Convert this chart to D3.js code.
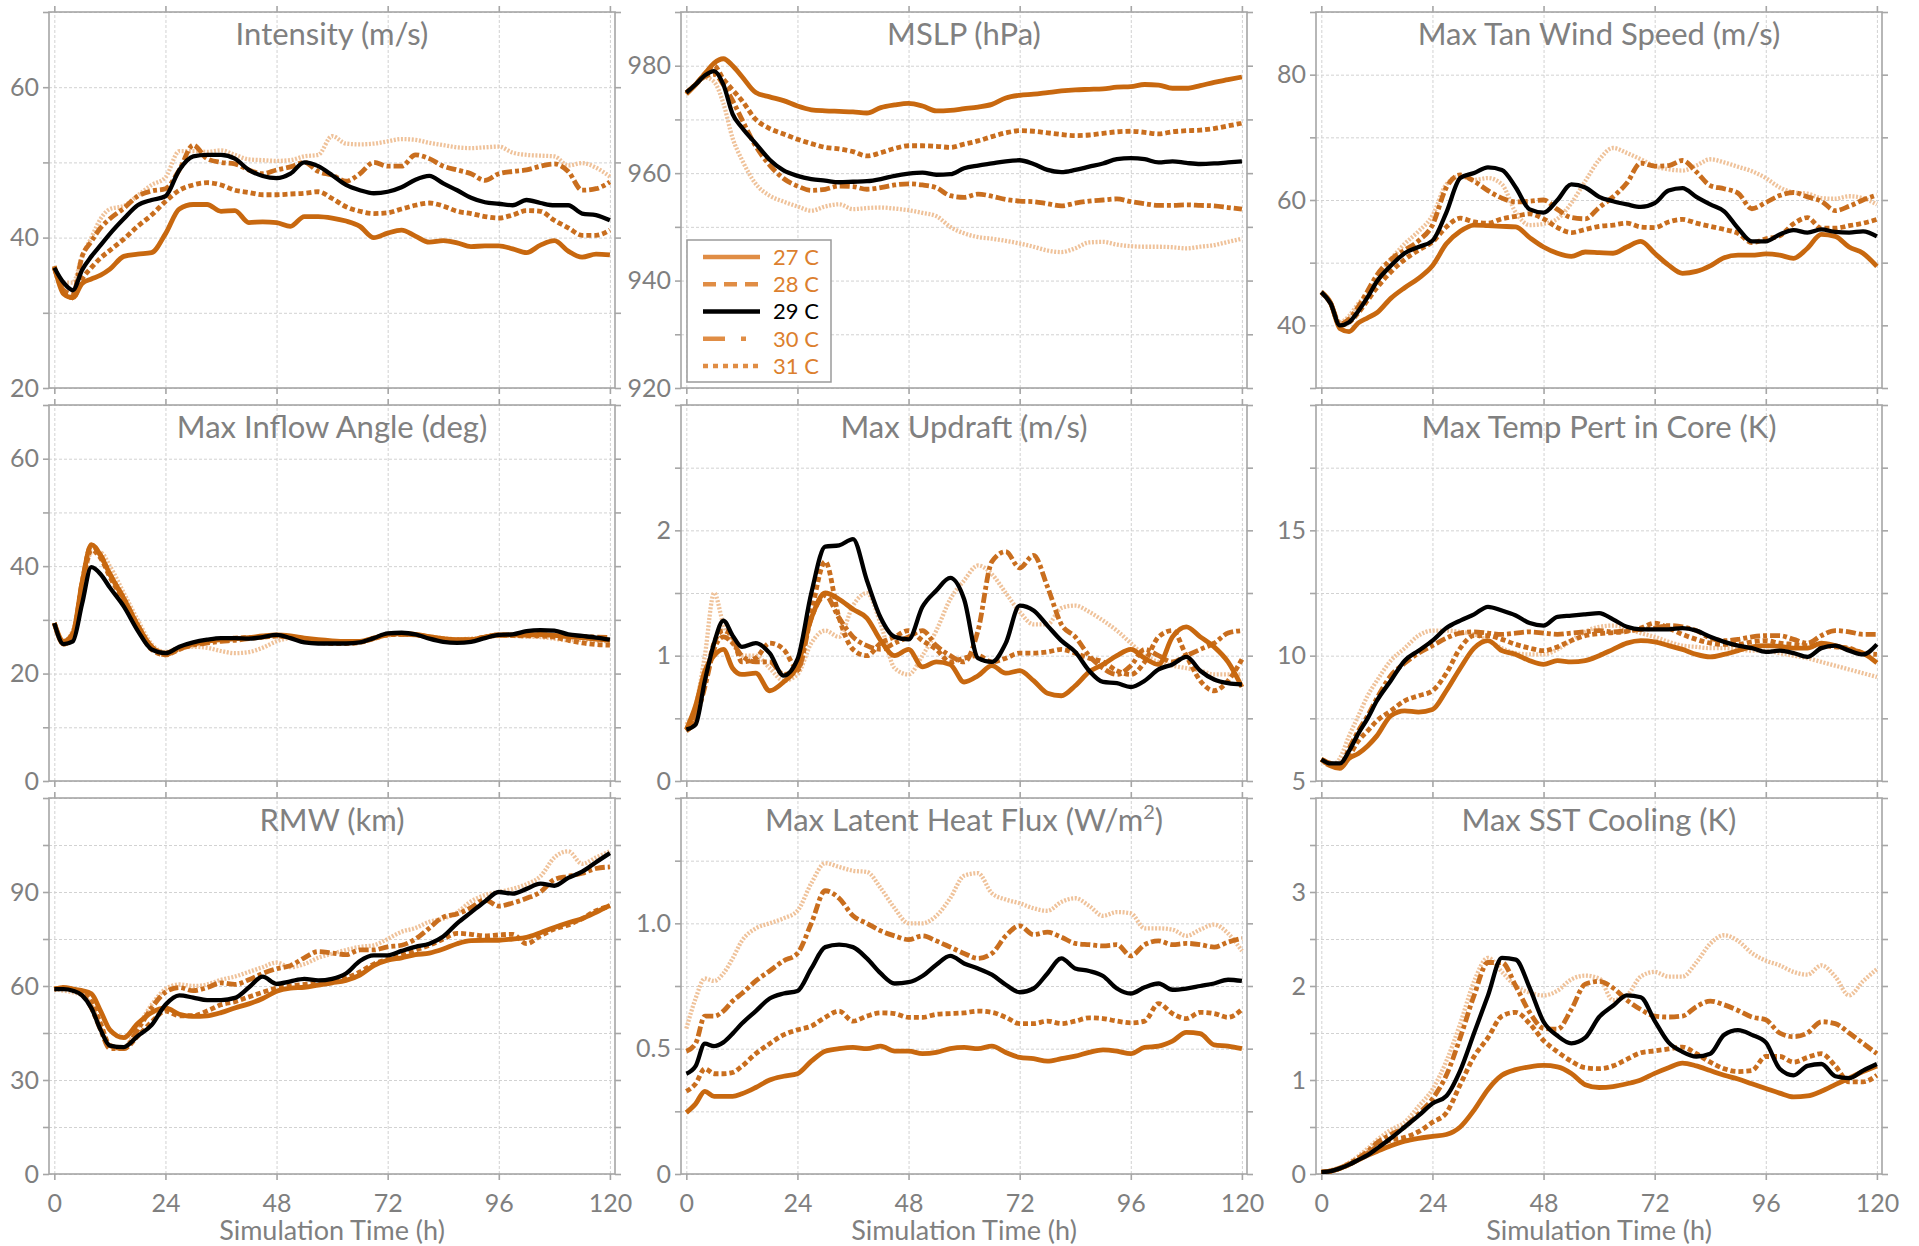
<!DOCTYPE html>
<html><head><meta charset="utf-8">
<script src="https://cdn.jsdelivr.net/npm/d3@7"></script>
<style>
body{margin:0;background:#fff;}
svg{display:block;font-family:Lato,'Open Sans',sans-serif;}
</style>
</head><body>
<svg id="chart" width="1919" height="1246"></svg>
<script>
// ---------------- DATA ----------------
const hours = [0,2,4,6,8,10,12,15,18,21,24,27,30,33,36,39,42,45,48,51,54,57,60,63,66,69,72,75,78,81,84,87,90,93,96,99,102,105,108,111,114,117,120];
const xTickValues = [0,24,48,72,96,120];
const seriesNames = ["27 C","28 C","29 C","30 C","31 C"];

// Intensity (m/s)
const intensity27 = [36.2,32.5,32,33.9,34.5,35,35.8,37.5,37.8,38,40.5,43.8,44.4,44.4,43.5,43.6,42,42.1,42,41.5,42.8,42.8,42.6,42.2,41.5,40,40.6,41,40.2,39.4,39.6,39.3,38.8,38.9,38.9,38.5,38,39,39.6,38.2,37.4,37.8,37.7];
const intensity28 = [36,33,32,34.5,36,37.3,38.3,39.8,41.5,43,44.8,46.3,47,47.3,47,46.3,46,45.7,45.7,45.8,45.9,46.1,45.2,44.1,43.5,43.2,43.3,43.8,44.3,44.6,44.2,43.5,43.2,42.8,42.6,43,43.6,43.5,42.3,41.3,40.3,40.3,41];
const intensity29 = [36,34,33,35.7,37.5,39,40.5,42.5,44.3,45,45.5,49,50.8,51,51,50.5,49,48.2,47.9,48.5,50,49.5,48.3,47,46.3,45.9,46.1,46.7,47.7,48.2,47.2,46.3,45.3,44.7,44.5,44.3,45,44.6,44.3,44.3,43.2,43,42.3];
const intensity30 = [36,33,32.5,37.5,39.5,41.3,42.5,43.9,45.5,46.2,46.5,49,52.3,50.5,50,49.8,49,48.5,49,49.4,50,48.8,48.3,47.5,48.5,50,49.5,49.5,51,50.5,49.5,49,48.5,47.6,48.5,48.8,49,49.5,49.8,48.8,46.3,46.5,47.4];
const intensity31 = [36,34,34,37.5,40,42.5,43.8,44.2,45.6,47,48,51.5,51.5,51.4,51.6,51,50.4,50.3,50.2,50.3,50.8,51,53.5,52.5,52.4,52.5,52.8,53.1,53,52.6,52.3,52,51.9,52,52.1,51.3,51,50.9,50.8,49.6,49.9,49.3,48.1];

// MSLP (hPa)
const mslp27 = [974.7,976.5,978.5,980.5,981.3,980,978,975,974.2,973.5,972.5,971.8,971.6,971.5,971.4,971.2,972.2,972.7,973,972.5,971.6,971.7,972,972.3,972.8,974,974.5,974.7,975,975.3,975.5,975.6,975.7,976,976.1,976.5,976.4,975.8,975.8,976.3,976.9,977.4,977.9];
const mslp28 = [975,976.5,978.5,980,977.5,975.5,973.5,970,968.3,967.3,966.3,965.5,964.8,964.5,964,963.2,963.8,964.6,965.1,965.1,965,964.8,965.4,966,966.8,967.5,967.9,967.8,967.5,967.2,967,967.1,967.4,967.7,967.8,967.6,967.3,967.7,967.9,968,968.3,968.8,969.3];
const mslp29 = [975,976.5,978.2,979,976.5,971,968.5,965.5,962.5,960.5,959.5,958.9,958.6,958.3,958.4,958.5,958.9,959.5,959.9,960.1,959.7,959.8,960.9,961.4,961.8,962.2,962.4,961.7,960.6,960.2,960.6,961.2,961.8,962.6,962.8,962.6,962,962.2,961.9,961.7,961.8,962,962.2];
const mslp30 = [975,976.5,978,978.4,976.5,973.5,970,965,961.5,959,957.6,956.8,957,957.6,957.5,957,957.3,957.8,958,957.8,957.3,955.8,955.5,956.1,955.7,955.1,954.8,954.7,954.3,953.9,954.4,954.8,955,955.2,954.7,954.3,954,954,954.1,954,953.9,953.6,953.3];
const mslp31 = [975,976.5,977.8,977,973,966.5,962.5,958,955.8,954.7,953.8,953,953.8,954.2,953.3,953.5,953.6,953.4,953.1,952.6,952,950,948.8,948.1,947.8,947.4,946.9,946.3,945.6,945.3,946,947.1,947.2,946.7,946.4,946.3,946.3,946.2,946,946.3,946.6,947.2,947.8];

// Max Tan Wind Speed (m/s)
const tanWind27 = [45.3,43.6,39.5,39,40.4,41.2,42,44.3,46,47.5,49.5,53,55,56,55.9,55.8,55.7,54,52.5,51.5,51,51.7,51.6,51.5,52.5,53.4,51.5,49.6,48.3,48.6,49.5,50.8,51.2,51.2,51.4,51.2,50.7,52.3,54.5,54.2,52.5,51.5,49.4];
const tanWind28 = [45.3,43.5,40,40.5,42,44,46,48.5,50.5,52,53.3,55.7,57.1,56.5,56.3,57,57.4,57.8,57,55.6,54.8,55.3,55.8,56,56.3,55.7,55.6,56.5,56.9,56.3,55.8,55.3,54.7,53.2,53.8,54.3,56.2,57.2,55.5,55.5,55.9,56.3,56.9];
const tanWind29 = [45.3,43.5,40,40.5,42.3,44.5,47,49.5,51.5,52.5,53.5,58,63.5,64.3,65.2,64.8,62,58.5,58,60,62.5,62,60.5,59.8,59.3,58.9,59.5,61.5,61.9,60.5,59.3,58.2,55.5,53.4,53.4,54.5,55.2,54.8,55.3,54.9,54.8,55,54.2];
const tanWind30 = [45.3,43.5,40.2,41,43,45.5,48,50.5,52,53.5,56,62,64,63,61.5,60.3,59.7,59.8,60,58.5,57.2,57,58.8,60.5,62.7,65.9,65.4,65.5,66.3,64.5,62.3,61.8,61.1,58.6,59.6,60.7,61.2,60.5,59.8,58.3,59,60,60.8];
const tanWind31 = [45.3,43.5,40.5,41.5,43.5,45,47.3,50.5,53,55,57.5,62.5,63.8,63.2,63.5,62.5,58,56,56.2,57,59.5,63,66.4,68.3,67.5,66.5,65.4,64.9,64.7,65.5,66.5,66,65.3,64.6,63.5,62,61.2,61,60.3,60.2,60.6,60.3,59.3];

// Max Inflow Angle (deg)
const inflow27 = [29.4,26,27.5,37,44,42,38.5,34,29,25,23.8,24.8,25.5,26,26.3,26.5,26.7,27,27.2,27,26.6,26.3,26.1,26,26,26.6,27.3,27.5,27.3,26.9,26.5,26.3,26.3,26.8,27.2,27.2,27.2,27.3,27.1,26.9,26.7,26.4,26.2];
const inflow28 = [29.4,25.5,26.5,36,43,41.5,38,33.5,28.5,24.5,23.5,24.5,25.5,26,26.4,26.6,26.7,26.8,27,26.7,26.2,25.8,25.6,25.6,25.8,26.5,27.2,27.3,27.2,26.8,26.3,26.2,26.3,26.8,27.2,27.1,27,27,26.8,26.2,25.7,25.4,25.3];
const inflow29 = [29.4,25.5,26,33,39.8,38.5,36,32.5,28,24.5,23.8,25,25.8,26.3,26.6,26.6,26.5,26.8,27.2,26.6,25.8,25.6,25.6,25.6,25.8,26.6,27.5,27.6,27.3,26.5,25.9,25.7,25.9,26.6,27.2,27.3,27.9,28.1,28,27.3,27,26.7,26.3];
const inflow30 = [29.4,25.5,27,37,43.8,42,38.5,34,29,25,23.5,24.6,25.3,25.7,26,26.2,26.5,26.8,27,26.8,26.3,26,25.9,25.8,25.9,26.6,27.2,27.3,27.2,26.8,26.4,26.2,26.3,26.8,27.1,27.1,27.2,27.3,27.1,27,26.9,26.8,26.7];
const inflow31 = [29.4,26,28,36,42.5,42.5,40,35,30,25.5,24,24.8,25,24.8,24.2,23.8,24,24.8,26,26.6,26.5,26.2,26,25.8,25.9,26.5,27.1,27.3,27.2,26.9,26.6,26.4,26.5,26.8,27,27,26.9,26.8,26.5,26.2,26.3,26.1,26];

// Max Updraft (m/s)
const updraft27 = [0.41,0.6,0.88,1.0,1.05,0.9,0.85,0.86,0.72,0.79,0.92,1.3,1.5,1.45,1.37,1.3,1.12,1.0,1.05,0.91,0.95,0.93,0.79,0.84,0.92,0.86,0.88,0.8,0.7,0.68,0.76,0.87,0.93,1.0,1.05,0.98,0.93,1.15,1.23,1.15,1.07,0.95,0.75];
const updraft28 = [0.4,0.5,0.8,1.1,1.2,1.15,0.95,0.98,1.1,1.05,0.9,1.35,1.75,1.3,1.05,1.0,1.1,1.15,1.2,1.12,1.05,0.95,0.98,1.0,0.95,0.98,1.02,1.02,1.03,1.05,1.02,0.98,0.95,0.88,0.85,0.95,1.15,1.2,1.0,0.8,0.72,0.8,0.97];
const updraft29 = [0.41,0.45,0.8,1.1,1.28,1.16,1.07,1.1,1.02,0.84,0.97,1.5,1.87,1.88,1.93,1.6,1.3,1.15,1.13,1.39,1.52,1.62,1.45,0.98,0.95,1.1,1.4,1.36,1.24,1.12,1.03,0.88,0.79,0.78,0.75,0.8,0.89,0.93,0.99,0.88,0.81,0.78,0.77];
const updraft30 = [0.4,0.5,0.75,1.05,1.15,1.1,1.0,0.95,0.95,0.85,0.88,1.3,1.48,1.3,1.15,1.08,1.05,1.1,1.15,1.2,1.08,1.0,0.95,1.2,1.75,1.83,1.7,1.8,1.55,1.25,1.15,1.0,0.9,0.85,0.92,1.05,1.0,0.95,1.0,1.05,1.1,1.18,1.2];
const updraft31 = [0.45,0.6,1.0,1.5,1.25,1.1,1.0,1.0,0.9,0.8,0.85,1.1,1.2,1.15,1.4,1.5,1.25,0.9,0.85,1.0,1.2,1.45,1.6,1.72,1.65,1.5,1.35,1.25,1.25,1.38,1.4,1.35,1.28,1.2,1.1,1.0,0.95,0.92,0.9,0.88,0.85,0.85,0.85];

// Max Temp Pert in Core (K)
const tempPert27 = [5.86,5.6,5.5,5.9,6.1,6.4,6.8,7.6,7.8,7.75,7.85,8.6,9.5,10.3,10.6,10.2,10.05,9.8,9.65,9.8,9.75,9.8,10.0,10.25,10.5,10.6,10.55,10.4,10.25,10.05,9.95,10.05,10.2,10.35,10.4,10.37,10.3,10.3,10.5,10.4,10.25,10.1,9.71];
const tempPert28 = [5.86,5.7,5.6,6.0,6.6,7.0,7.4,7.8,8.2,8.4,8.6,9.3,10.3,10.8,10.8,10.65,10.45,10.3,10.2,10.35,10.6,10.8,10.88,10.92,10.97,11.1,11.3,11.1,10.85,10.65,10.5,10.45,10.45,10.55,10.6,10.5,10.45,10.4,10.4,10.35,10.3,10.1,10.05];
const tempPert29 = [5.86,5.7,5.7,6.2,6.9,7.5,8.2,9.0,9.8,10.2,10.6,11.1,11.4,11.65,11.95,11.8,11.6,11.3,11.2,11.55,11.6,11.65,11.7,11.45,11.15,11.05,11.05,11.05,11.1,11.0,10.75,10.55,10.4,10.3,10.15,10.2,10.1,9.95,10.3,10.4,10.2,10.05,10.45];
const tempPert30 = [5.86,5.7,5.6,6.3,7.0,7.6,8.3,9.2,9.7,10.1,10.4,10.7,10.9,10.95,10.9,10.85,10.9,10.95,10.9,10.85,10.9,10.95,11.0,10.95,11.0,11.05,11.1,11.2,11.15,11.0,10.7,10.6,10.65,10.75,10.8,10.8,10.65,10.5,10.8,11.0,10.95,10.85,10.85];
const tempPert31 = [5.86,5.6,5.9,6.8,7.6,8.4,9.0,9.8,10.3,10.8,11.0,11.0,10.95,10.85,10.6,10.3,10.1,10.05,10.05,10.25,10.6,10.95,11.15,11.2,11.1,10.9,10.75,10.55,10.4,10.35,10.3,10.3,10.25,10.2,10.2,10.1,10.0,9.9,9.75,9.6,9.45,9.3,9.15];

// RMW (km)
const rmw27 = [59,59.5,59,58.5,57.5,52,46,43.5,48,51.5,53,51,50.3,50.5,51.5,53,54.3,56,58.3,59.3,59.6,60.3,61,61.8,63.5,66.5,68.2,69,70,70.5,71.8,73.5,74.5,74.6,74.6,75,75.5,77,78.7,80.2,81.5,83.5,85.7];
const rmw28 = [59,59.5,59,58,55,48,41,40,44,48.5,52,50.5,50.5,52,54,55,56.5,58,59.3,60,60.5,61,61.5,62.5,64.5,67,68.5,70,71.5,73,75,76.8,76.5,76,76.3,76.5,73.5,76,78.2,79.5,81.5,84,85.5];
const rmw29 = [59,59,58.5,57,53,46,41,40.5,44,47.5,54,57,56.3,55.5,55.5,56.2,59.5,63,60.7,61.5,62.3,61.8,62.3,64,68,69.8,69.8,71.2,72.5,73.5,75.8,80,83.5,87,90,89.5,91,92.7,92,94.5,96.5,99.5,102.4];
const rmw30 = [59,59.5,59,57.5,53,46,40,40,46,53,58,59.5,58.5,59.5,61,60.5,62,64,65.5,66.5,69,71,70.5,70,71.5,71.5,72.5,73,75,78.5,82,83,85,87.5,85.5,86.5,88,90,94,95,96,97.5,98];
const rmw31 = [59,58.5,58,57,54,47,41,40.5,47,54,59,60.5,60,60.5,62,63,64.5,66,67.5,66,67,69,70.3,71.5,72.5,73,75,77.3,78.5,80.5,81.5,83.5,87,89,90,91,92.5,95,101,103,99,101,103];

// Max Latent Heat Flux (W/m2)
const lhf27 = [0.245,0.28,0.33,0.31,0.31,0.31,0.32,0.345,0.375,0.39,0.40,0.45,0.49,0.50,0.505,0.50,0.51,0.49,0.49,0.48,0.485,0.50,0.505,0.50,0.51,0.485,0.465,0.46,0.45,0.46,0.47,0.485,0.495,0.49,0.48,0.505,0.51,0.53,0.565,0.56,0.515,0.51,0.50];
const lhf28 = [0.33,0.36,0.42,0.40,0.40,0.405,0.43,0.48,0.52,0.555,0.575,0.59,0.625,0.65,0.61,0.63,0.643,0.64,0.625,0.625,0.637,0.64,0.643,0.65,0.645,0.625,0.60,0.60,0.61,0.60,0.61,0.623,0.62,0.61,0.603,0.61,0.68,0.64,0.62,0.645,0.64,0.625,0.656];
const lhf29 = [0.40,0.43,0.52,0.51,0.525,0.56,0.60,0.65,0.70,0.72,0.73,0.82,0.905,0.915,0.905,0.86,0.80,0.76,0.765,0.79,0.835,0.87,0.84,0.82,0.795,0.755,0.725,0.74,0.80,0.86,0.82,0.81,0.79,0.74,0.72,0.745,0.76,0.735,0.74,0.75,0.76,0.775,0.77];
const lhf30 = [0.49,0.52,0.63,0.63,0.65,0.69,0.72,0.77,0.81,0.85,0.88,1.0,1.13,1.1,1.03,1.0,0.97,0.95,0.935,0.95,0.93,0.905,0.88,0.86,0.88,0.95,0.99,0.955,0.965,0.945,0.92,0.915,0.91,0.915,0.87,0.915,0.93,0.915,0.92,0.915,0.905,0.925,0.94];
const lhf31 = [0.58,0.7,0.78,0.77,0.80,0.86,0.93,0.98,1.0,1.02,1.05,1.16,1.24,1.225,1.21,1.205,1.14,1.06,1.0,1.0,1.03,1.1,1.19,1.2,1.12,1.095,1.08,1.06,1.05,1.085,1.1,1.07,1.03,1.045,1.04,0.98,0.98,0.975,0.95,0.975,0.995,0.96,0.89];

// Max SST Cooling (K)
const sst27 = [0.02,0.03,0.06,0.1,0.15,0.2,0.24,0.3,0.35,0.38,0.4,0.42,0.5,0.68,0.9,1.05,1.11,1.14,1.155,1.14,1.07,0.95,0.92,0.93,0.96,1.0,1.07,1.13,1.18,1.15,1.1,1.05,1.01,0.96,0.91,0.86,0.82,0.83,0.88,0.95,1.02,1.09,1.15];
const sst28 = [0.02,0.03,0.06,0.1,0.16,0.22,0.29,0.36,0.39,0.45,0.55,0.65,0.95,1.25,1.45,1.68,1.72,1.6,1.42,1.3,1.2,1.13,1.12,1.15,1.22,1.29,1.31,1.33,1.35,1.28,1.19,1.12,1.09,1.1,1.25,1.25,1.19,1.24,1.28,1.15,0.98,0.98,1.05];
const sst29 = [0.02,0.03,0.06,0.1,0.15,0.2,0.27,0.38,0.5,0.62,0.75,0.83,1.1,1.5,1.9,2.3,2.28,1.98,1.62,1.47,1.39,1.45,1.67,1.79,1.9,1.88,1.63,1.4,1.3,1.25,1.28,1.48,1.53,1.48,1.4,1.12,1.05,1.15,1.17,1.04,1.02,1.1,1.17];
const sst30 = [0.02,0.03,0.06,0.11,0.17,0.24,0.33,0.42,0.5,0.64,0.8,1.05,1.45,1.9,2.25,2.25,2.0,1.72,1.55,1.54,1.75,2.02,2.05,1.98,1.85,1.75,1.68,1.67,1.68,1.78,1.84,1.8,1.74,1.67,1.64,1.5,1.46,1.5,1.62,1.6,1.5,1.39,1.28];
const sst31 = [0.02,0.04,0.07,0.12,0.19,0.27,0.36,0.47,0.55,0.72,0.9,1.2,1.6,2.05,2.3,2.15,2.0,1.93,1.9,1.95,2.07,2.11,2.08,1.85,1.9,2.1,2.15,2.1,2.1,2.25,2.45,2.54,2.48,2.35,2.27,2.22,2.15,2.12,2.22,2.1,1.9,2.05,2.18];

const panelTitles = ["Intensity (m/s)","MSLP (hPa)","Max Tan Wind Speed (m/s)","Max Inflow Angle (deg)","Max Updraft (m/s)","Max Temp Pert in Core (K)","RMW (km)","Max Latent Heat Flux (W/m","Max SST Cooling (K)"];
const yDomains = [[20,70],[920,990],[30,90],[0,70],[0,3],[5,20],[0,120],[0,1.5],[0,4]];
const yGridSteps = [10,10,10,10,0.5,2.5,15,0.25,0.5];
const yLabelTicks = [[20,40,60],[920,940,960,980],[40,60,80],[0,20,40,60],[0,1,2],[5,10,15],[0,30,60,90],[0,0.5,1.0],[0,1,2,3]];
const panelSeries = [
  [intensity27,intensity28,intensity29,intensity30,intensity31],
  [mslp27,mslp28,mslp29,mslp30,mslp31],
  [tanWind27,tanWind28,tanWind29,tanWind30,tanWind31],
  [inflow27,inflow28,inflow29,inflow30,inflow31],
  [updraft27,updraft28,updraft29,updraft30,updraft31],
  [tempPert27,tempPert28,tempPert29,tempPert30,tempPert31],
  [rmw27,rmw28,rmw29,rmw30,rmw31],
  [lhf27,lhf28,lhf29,lhf30,lhf31],
  [sst27,sst28,sst29,sst30,sst31]
];

// ---------------- STYLE / LAYOUT ----------------
const colLefts = [49,681,1316], rowTops = [12,405,798], PW = 566, PH = 376;
const xDomain = [-1.15,121.1];
const frameColor = "#a6a6a6", gridColor = "#d2d2d2", textColor = "#7f7f7f";
const lineStyles = [
  {stroke:"#c8680f", width:4.8, dash:null},
  {stroke:"#c96e1e", width:4.8, dash:"5,3"},
  {stroke:"#000000", width:4.3, dash:null},
  {stroke:"#c96e1e", width:4.8, dash:"10,3,4,3"},
  {stroke:"#efc29a", width:4.3, dash:"2,1.6"}
];
const legendStyles = [
  {stroke:"#e08d45", dash:null},
  {stroke:"#e08d45", dash:"13,8"},
  {stroke:"#000000", dash:null},
  {stroke:"#e08d45", dash:"22,16,5,100"},
  {stroke:"#e08d45", dash:"5,5"}
];
const legendTextColors = ["#dc7f2e","#dc7f2e","#000000","#dc7f2e","#dc7f2e"];
const drawOrder = [4,3,1,0,2];

const svg = d3.select("#chart");
const near = (a,b) => Math.abs(a-b) < 1e-9;

panelTitles.forEach((title, i) => {
  const col = i % 3, row = Math.floor(i / 3);
  const L = colLefts[col], T = rowTops[row];
  const g = svg.append("g").attr("transform", `translate(${L},${T})`);
  const x = d3.scaleLinear().domain(xDomain).range([0,PW]);
  const y = d3.scaleLinear().domain(yDomains[i]).range([PH,0]);
  const step = yGridSteps[i];
  const gridVals = d3.range(yDomains[i][0], yDomains[i][1] + step*0.01, step);
  const labels = yLabelTicks[i];
  const fmt = i === 7 ? (d => d === 0 ? "0" : d3.format(".1f")(d)) : d3.format("d");

  // grid
  const gy = g.append("g").call(d3.axisLeft(y).tickValues(gridVals).tickSize(-PW).tickFormat(""));
  const gx = g.append("g").attr("transform", `translate(0,${PH})`).call(d3.axisBottom(x).tickValues(xTickValues).tickSize(-PH).tickFormat(""));
  [gy, gx].forEach(s => {
    s.select(".domain").remove();
    s.selectAll("line").attr("stroke", gridColor).attr("stroke-width", 1).attr("stroke-dasharray", "3,2");
  });

  // frame
  g.append("rect").attr("width", PW).attr("height", PH).attr("fill", "none")
    .attr("stroke", frameColor).attr("stroke-width", 1.6);

  // ticks
  const axL = g.append("g").call(d3.axisLeft(y).tickValues(gridVals).tickSize(6).tickPadding(4)
    .tickFormat(d => labels.some(v => near(v, d)) ? fmt(d) : ""));
  const axR = g.append("g").attr("transform", `translate(${PW},0)`).call(d3.axisRight(y).tickValues(gridVals).tickSize(6).tickFormat(""));
  const axT = g.append("g").call(d3.axisTop(x).tickValues(xTickValues).tickSize(6).tickFormat(""));
  const axB = g.append("g").attr("transform", `translate(0,${PH})`).call(d3.axisBottom(x).tickValues(xTickValues).tickSize(6).tickPadding(14)
    .tickFormat(row === 2 ? d3.format("d") : ""));
  [axL, axR, axT, axB].forEach(s => {
    s.select(".domain").remove();
    s.selectAll("line").attr("stroke", frameColor).attr("stroke-width", 1.6);
    s.selectAll("text").attr("fill", textColor).style("font-size", "25px").style("font-family", "Lato, 'Open Sans', sans-serif");
  });

  // clip + lines
  const clipId = "clip" + i;
  g.append("clipPath").attr("id", clipId).append("rect").attr("width", PW).attr("height", PH);
  const line = d3.line().x((d, k) => x(hours[k])).y(d => y(d)).curve(d3.curveMonotoneX);
  const lg = g.append("g").attr("clip-path", `url(#${clipId})`);
  drawOrder.forEach(s => {
    const st = lineStyles[s];
    lg.append("path").datum(panelSeries[i][s]).attr("d", line).attr("fill", "none")
      .attr("stroke", st.stroke).attr("stroke-width", st.width)
      .attr("stroke-dasharray", st.dash).attr("stroke-linejoin", "round");
  });

  // title
  const t = g.append("text").attr("x", PW/2).attr("y", 33).attr("text-anchor", "middle")
    .attr("fill", "#808080").style("font-size", "31px").text(title);
  if (i === 7) {
    t.append("tspan").attr("dy", -12).style("font-size", "20px").text("2");
    t.append("tspan").attr("dy", 12).text(")");
  }

  // x axis title
  if (row === 2) {
    g.append("text").attr("x", PW/2).attr("y", 1240 - T).attr("text-anchor", "middle")
      .attr("fill", textColor).style("font-size", "27px").text("Simulation Time (h)");
  }
});

// legend (in MSLP panel)
const leg = svg.append("g").attr("transform", "translate(687,240)");
leg.append("rect").attr("width", 144).attr("height", 142).attr("fill", "#fff")
  .attr("stroke", "#9a9a9a").attr("stroke-width", 1.5);
const legY = d3.scalePoint().domain(seriesNames).range([17, 126]);
seriesNames.forEach((name, s) => {
  const yy = legY(name);
  leg.append("line").attr("x1", 16).attr("x2", 73).attr("y1", yy).attr("y2", yy)
    .attr("stroke", legendStyles[s].stroke).attr("stroke-width", 4.5)
    .attr("stroke-dasharray", legendStyles[s].dash);
  leg.append("text").attr("x", 86).attr("y", yy).attr("dy", "0.36em")
    .attr("fill", legendTextColors[s]).style("font-size", "22px").text(name);
});
</script>
</body></html>
